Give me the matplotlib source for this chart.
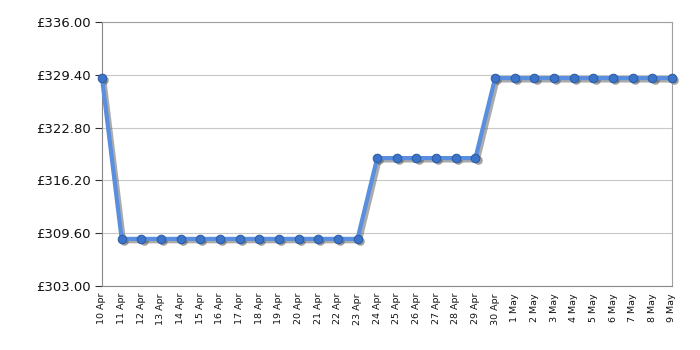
import matplotlib
matplotlib.use("Agg")
import matplotlib.pyplot as plt
import matplotlib.transforms as mtransforms
from matplotlib.ticker import FixedLocator

dates = ["10 Apr", "11 Apr", "12 Apr", "13 Apr", "14 Apr", "15 Apr", "16 Apr", "17 Apr",
         "18 Apr", "19 Apr", "20 Apr", "21 Apr", "22 Apr", "23 Apr", "24 Apr", "25 Apr",
         "26 Apr", "27 Apr", "28 Apr", "29 Apr", "30 Apr", "1 May", "2 May", "3 May",
         "4 May", "5 May", "6 May", "7 May", "8 May", "9 May"]
prices = [328.99] + [308.89] * 13 + [318.99] * 6 + [328.99] * 10
y_ticks = [303.00, 309.60, 316.20, 322.80, 329.40, 336.00]

fig = plt.figure(figsize=(7, 3.5), dpi=100)
ax = fig.add_axes([102/700, 1-286/350, 570/700, 264/350])

x = list(range(len(dates)))
shadow_tr = mtransforms.offset_copy(ax.transData, fig=fig, x=1.6, y=-1.6, units="points")
ax.plot(x, prices, color="#666666", alpha=0.55, lw=3.2, marker="o", ms=6.2,
        mfc="#555555", mec="#555555", mew=0, zorder=2.5, clip_on=False,
        transform=shadow_tr)
ax.plot(x, prices, color="#5a8ede", lw=3.0, marker="o", ms=6.2,
        mfc="#3b74c9", mec="#2b5aa0", mew=0.7, zorder=3, clip_on=False)

ax.set_xlim(0, len(dates) - 1)
ax.set_ylim(y_ticks[0], y_ticks[-1])
ax.set_yticks(y_ticks)
ax.set_yticklabels([f"£{v:.2f}" for v in y_ticks], fontsize=9.5, color="#111111")
ax.set_xticks(x)
ax.set_xticklabels(dates, rotation=90, fontsize=6.8, color="#111111")
ax.tick_params(axis="x", which="major", length=0, pad=5)
ax.xaxis.set_minor_locator(FixedLocator(x[2::3]))
ax.tick_params(axis="x", which="minor", length=5, color="#333333")
ax.tick_params(axis="y", length=5, color="#333333", pad=3)
ax.grid(True, axis="y", which="major", color="#c8c8c8", lw=0.8)
ax.grid(True, axis="x", which="minor", color="#c8c8c8", lw=0.8)
ax.set_axisbelow(True)
for s in ax.spines.values():
    s.set_color("#a0a0a0")
    s.set_linewidth(0.8)
ax.spines["left"].set_color("#888888")
ax.spines["bottom"].set_color("#888888")

fig.savefig("out.png", dpi=100)
